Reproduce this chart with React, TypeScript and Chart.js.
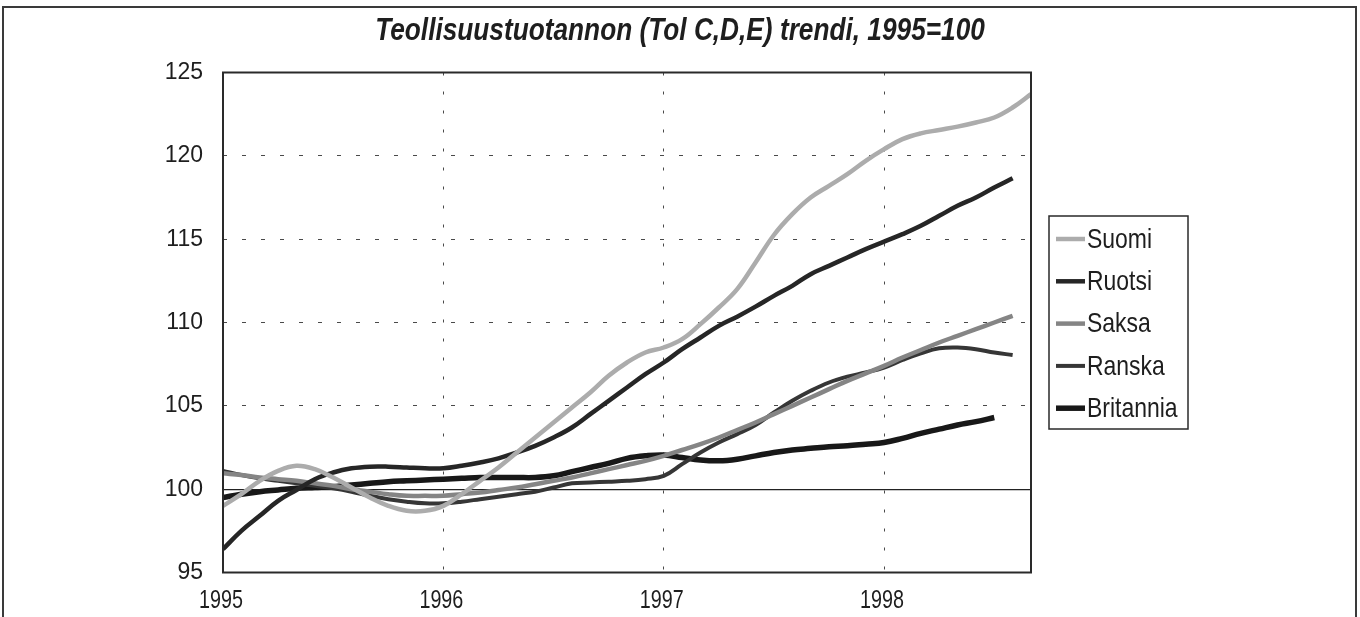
import React, { useEffect, useRef } from 'react';
import { Chart, registerables } from 'chart.js';

Chart.register(...registerables);

// ---- data ----
const TITLE = 'Teollisuustuotannon (Tol C,D,E) trendi, 1995=100';
const YEAR_LABELS = ['1995', '1996', '1997', '1998'];
const MONTHS_PER_YEAR = 12;
const X_MAX_MONTH = 44; // Jan 1995 = 0
const Y_MIN = 95;
const Y_MAX = 125;
const Y_STEP = 5;
const BASELINE = 100;

const SERIES_NAMES = ['Suomi', 'Ruotsi', 'Saksa', 'Ranska', 'Britannia'];

const suomi = [
  99.0, 99.7, 100.5, 101.1, 101.4, 101.2, 100.7, 100.1, 99.5, 99.0,
  98.7, 98.7, 99.0, 99.7, 100.5, 101.3, 102.2, 103.1, 104.0, 104.9,
  105.8, 106.8, 107.6, 108.2, 108.5, 109.0, 109.9, 110.9, 112.0, 113.6,
  115.25, 116.5, 117.5, 118.2, 118.9, 119.7, 120.4, 121.0, 121.35, 121.55,
  121.75, 122.0, 122.3, 122.9, 123.7,
];

const ruotsi = [
  96.4, 97.5, 98.4, 99.3, 99.95, 100.6, 101.0, 101.25, 101.35, 101.35,
  101.3, 101.25, 101.25, 101.4, 101.6, 101.85, 102.2, 102.6, 103.1, 103.7,
  104.5, 105.3, 106.1, 106.9, 107.6, 108.4, 109.1, 109.8, 110.35, 110.95,
  111.6, 112.2, 112.9, 113.4, 113.9, 114.4, 114.85, 115.3, 115.8, 116.4,
  117.0, 117.5, 118.1, 118.65,
];

const saksa = [
  100.95, 100.85, 100.7, 100.6, 100.5, 100.35, 100.2, 100.0, 99.85, 99.7,
  99.6, 99.6, 99.6, 99.7, 99.8, 99.95, 100.1, 100.3, 100.5, 100.7,
  100.95, 101.2, 101.45, 101.7, 102.0, 102.35, 102.7, 103.1, 103.55, 104.0,
  104.5, 105.0, 105.5, 106.0, 106.5, 106.95, 107.4, 107.9, 108.35, 108.8,
  109.2, 109.6, 110.0, 110.4,
];

const ranska = [
  101.1, 100.85, 100.65, 100.5, 100.35, 100.2, 100.05, 99.85, 99.6, 99.4,
  99.25, 99.15, 99.15, 99.25, 99.4, 99.55, 99.7, 99.85, 100.1, 100.35,
  100.4, 100.45, 100.5, 100.6, 100.8, 101.5, 102.2, 102.8, 103.3, 103.85,
  104.6, 105.3, 105.9, 106.4, 106.75, 107.0, 107.3, 107.75, 108.15, 108.45,
  108.5, 108.4, 108.2, 108.05,
];

const britannia = [
  99.5, 99.7, 99.85, 99.95, 100.05, 100.1, 100.15, 100.25, 100.35, 100.45,
  100.5, 100.55, 100.6, 100.65, 100.7, 100.7, 100.7, 100.7, 100.8, 101.05,
  101.3, 101.55, 101.85, 102.0, 102.05, 101.9, 101.75, 101.7, 101.8, 102.0,
  102.2, 102.35, 102.45, 102.55, 102.6, 102.7, 102.8, 103.05, 103.35, 103.6,
  103.85, 104.05, 104.3,
];

const SERIES_VALUES = [suomi, ruotsi, saksa, ranska, britannia];

// ---- styles ----
const SERIES_COLORS = ['#acacac', '#262626', '#858585', '#363636', '#181818'];
const SERIES_WIDTHS = [4.5, 4.5, 4.5, 4, 5.5];
const FONT = "'Liberation Sans', Arial, sans-serif";
const INK = '#1e1e1e';
const GRID_INK = '#4a4a4a';
const W = 1360;
const H = 617;
const NARROW = 0.82;

function drawText(
  ctx: CanvasRenderingContext2D,
  text: string,
  x: number,
  y: number,
  font: string,
  align: CanvasTextAlign,
  sx: number,
) {
  ctx.save();
  ctx.font = font;
  ctx.fillStyle = INK;
  ctx.textBaseline = 'middle';
  ctx.textAlign = align;
  ctx.translate(x, y);
  ctx.scale(sx, 1);
  ctx.fillText(text, 0, 0);
  ctx.restore();
}

const framePlugin = {
  id: 'frame',
  beforeDraw(chart: any) {
    const { ctx } = chart;
    ctx.save();
    ctx.fillStyle = '#ffffff';
    ctx.fillRect(0, 0, W, H);
    ctx.strokeStyle = '#3a3a3a';
    ctx.lineWidth = 2;
    ctx.beginPath();
    ctx.moveTo(3, H);
    ctx.lineTo(3, 7);
    ctx.lineTo(1356, 7);
    ctx.lineTo(1356, H);
    ctx.stroke();
    ctx.restore();
  },
  afterDatasetsDraw(chart: any) {
    const { ctx, chartArea: a } = chart;
    ctx.save();
    ctx.strokeStyle = '#2a2a2a';
    ctx.lineWidth = 2;
    ctx.strokeRect(a.left, a.top, a.right - a.left, a.bottom - a.top);
    ctx.restore();
  },
  afterDraw(chart: any) {
    const { ctx, chartArea: a } = chart;
    // title
    drawText(ctx, TITLE, W / 2, 31, `italic bold 32px ${FONT}`, 'center', NARROW);
    // x tick labels
    const xs = chart.scales.x;
    xs.ticks.forEach((t: any) => {
      const label = YEAR_LABELS[Math.round(t.value / MONTHS_PER_YEAR)];
      if (!label) return;
      drawText(ctx, label, xs.getPixelForValue(t.value) - 2, a.bottom + 29, `25px ${FONT}`, 'center', 0.79);
    });
  },
};

const boxLegendPlugin = {
  id: 'boxLegend',
  afterDraw(chart: any) {
    const { ctx, chartArea: a } = chart;
    const datasets = chart.data.datasets;
    const rowH = 42.3;
    const boxW = 139;
    const boxH = 213;
    const left = a.right + 18;
    const top = (a.top + a.bottom) / 2 - boxH / 2;
    ctx.save();
    ctx.strokeStyle = '#2a2a2a';
    ctx.lineWidth = 1.5;
    ctx.strokeRect(left, top, boxW, boxH);
    datasets.forEach((ds: any, i: number) => {
      const y = top + 23 + i * rowH;
      ctx.strokeStyle = ds.borderColor;
      ctx.lineWidth = ds.borderWidth;
      ctx.beginPath();
      ctx.moveTo(left + 7, y);
      ctx.lineTo(left + 36, y);
      ctx.stroke();
      drawText(ctx, ds.label, left + 38, y + 1, `28px ${FONT}`, 'left', NARROW);
    });
    ctx.restore();
  },
};

export default function App() {
  const canvasRef = useRef<HTMLCanvasElement | null>(null);

  useEffect(() => {
    const canvas = canvasRef.current;
    if (!canvas) return;

    const datasets = SERIES_NAMES.map((name, i) => ({
      label: name,
      data: SERIES_VALUES[i].map((v, m) => ({ x: m, y: v })),
      borderColor: SERIES_COLORS[i],
      backgroundColor: SERIES_COLORS[i],
      borderWidth: SERIES_WIDTHS[i],
      pointRadius: 0,
      tension: 0.4,
      fill: false,
    }));

    const chart = new Chart(canvas, {
      type: 'line',
      data: { datasets },
      plugins: [framePlugin, boxLegendPlugin],
      options: {
        animation: false,
        responsive: false,
        devicePixelRatio: 1,
        layout: { padding: { left: 0, right: W - 1031, top: 72.5, bottom: 0 } },
        plugins: {
          legend: { display: false },
          tooltip: { enabled: false },
          title: { display: false },
        },
        scales: {
          x: {
            type: 'linear',
            min: 0,
            max: X_MAX_MONTH,
            afterBuildTicks: (scale: any) => {
              scale.ticks = scale.ticks.filter((t: any) => t.value % MONTHS_PER_YEAR === 0);
            },
            afterFit: (scale: any) => {
              scale.height = H - 572.5;
            },
            ticks: {
              display: false,
              stepSize: MONTHS_PER_YEAR,
              autoSkip: false,
              maxRotation: 0,
              callback: (v: any) => YEAR_LABELS[Math.round(v / MONTHS_PER_YEAR)] ?? '',
            },
            grid: {
              drawTicks: false,
              lineWidth: 1,
              color: (ctx: any) =>
                ctx.tick && ctx.tick.value > 0 && ctx.tick.value < X_MAX_MONTH ? GRID_INK : 'rgba(0,0,0,0)',
            },
            border: { display: false, dash: [3, 16] },
          },
          y: {
            min: Y_MIN,
            max: Y_MAX,
            afterFit: (scale: any) => {
              scale.width = 223;
            },
            ticks: {
              stepSize: Y_STEP,
              padding: 20,
              color: INK,
              font: { family: FONT, size: 23 },
            },
            grid: {
              drawTicks: false,
              lineWidth: (ctx: any) => (ctx.tick && ctx.tick.value === BASELINE ? 1.3 : 1),
              color: (ctx: any) => {
                const v = ctx.tick ? ctx.tick.value : null;
                if (v === Y_MIN || v === Y_MAX) return 'rgba(0,0,0,0)';
                if (v === BASELINE) return '#222222';
                return GRID_INK;
              },
            },
            border: {
              display: false,
              dash: (ctx: any) => (ctx.tick && ctx.tick.value === BASELINE ? [] : [4, 15]),
            },
          },
        },
      } as any,
    });

    return () => {
      chart.destroy();
    };
  }, []);

  return (
    <div style={{ position: 'absolute', left: 0, top: 0, width: W, height: H, background: '#fff' }}>
      <canvas ref={canvasRef} width={W} height={H} style={{ display: 'block', width: W, height: H }} />
    </div>
  );
}
